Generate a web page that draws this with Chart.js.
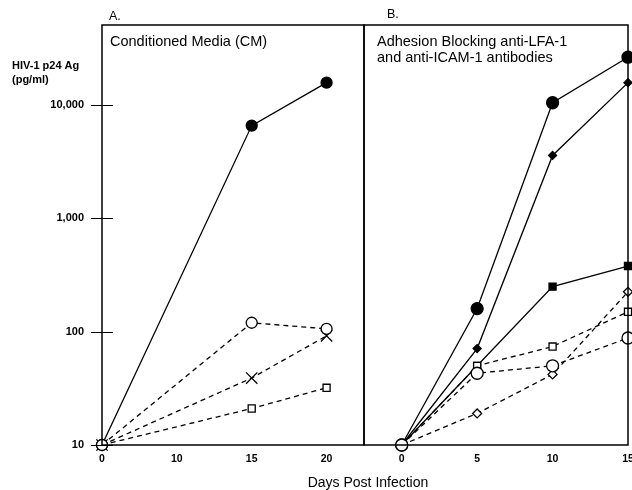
<!DOCTYPE html>
<html><head><meta charset="utf-8">
<script src="https://cdn.jsdelivr.net/npm/chart.js@4.4.1/dist/chart.umd.min.js"></script>
<style>
html,body{margin:0;padding:0;background:#fff;}
#wrap{position:relative;width:632px;height:490px;background:#fff;}
canvas{position:absolute;left:0;top:0;}
</style></head><body>
<div id="wrap"><canvas id="cA" width="632" height="490"></canvas><canvas id="cB" width="632" height="490"></canvas></div>
<script>
// ---- Panel A (Conditioned Media) ----
const daysA = ['0', '10', '15', '20'];          // tick labels (equally spaced in the original)
const daysAData = ['0', '15', '20'];           // days sampled
const cmFilledCircle = [10, 6600, 15800];
const cmOpenCircle = [10, 120, 106];
const cmCross = [10, 39, 92];
const cmOpenSquare = [10, 21, 32];

// ---- Panel B (Adhesion blocking antibodies) ----
const daysB = [0, 5, 10, 15];
const abFilledCircle = [10, 160, 10500, 26500];
const abFilledDiamond = [10, 71, 3600, 15800];
const abFilledSquare = [10, 50, 250, 380];
const abOpenSquare = [10, 50, 74, 150];
const abOpenCircle = [10, 43, 50, 88];
const abOpenDiamond = [10, 19, 42, 225];

const yTicks = [10, 100, 1000, 10000];
const yMin = 10, yMax = 51000;

const FONT = "'Liberation Sans', Arial, Helvetica, sans-serif";
Chart.defaults.font.family = FONT;
Chart.defaults.color = '#000';

function ptsA(vals) { return vals.map((v, i) => ({ x: daysA.indexOf(daysAData[i]), y: v })); }
function ptsB(vals) { return vals.map((v, i) => ({ x: daysB[i], y: v })); }

function ds(data, style, radius, filled, dashed, extra) {
  return Object.assign({
    data: data,
    borderColor: '#000',
    borderWidth: 1.3,
    borderDash: dashed ? [5, 4] : [],
    pointStyle: style,
    pointRadius: radius,
    pointHoverRadius: radius,
    pointBackgroundColor: filled ? '#000' : '#fff',
    pointBorderColor: '#000',
    pointBorderWidth: 1.3,
    fill: false,
    tension: 0,
    clip: false
  }, extra || {});
}

function framePlugin(id, draw) {
  return {
    id: id,
    afterDraw(chart) {
      const ctx = chart.ctx, a = chart.chartArea;
      ctx.save();
      ctx.strokeStyle = '#000';
      ctx.lineWidth = 1.5;
      ctx.strokeRect(a.left, a.top, a.right - a.left, a.bottom - a.top);
      ctx.restore();
      draw(chart, ctx, a);
    }
  };
}

const commonY = {
  type: 'logarithmic', min: yMin, max: yMax
};

function noPad(s) { s.height = 45; s.paddingLeft = 0; s.paddingRight = 0; }

// Chart A
const plugA = framePlugin('frameA', (chart, ctx, a) => {
  const ys = chart.scales.y;
  ctx.save();
  ctx.strokeStyle = '#000'; ctx.lineWidth = 1;
  yTicks.forEach(v => {
    const y = Math.round(ys.getPixelForValue(v)) + 0.5;
    ctx.beginPath(); ctx.moveTo(a.left - 11, y); ctx.lineTo(a.left + 11, y); ctx.stroke();
  });
  ctx.fillStyle = '#000';
  ctx.textBaseline = 'middle';
  ctx.textAlign = 'left';
  ctx.font = '12.5px ' + FONT;
  ctx.fillText('A.', 109, 17);
  ctx.font = '14.5px ' + FONT;
  ctx.fillText('Conditioned Media (CM)', 110, 42);
  ctx.font = 'bold 11px ' + FONT;
  ctx.fillText('HIV-1 p24 Ag', 12, 66);
  ctx.fillText('(pg/ml)', 12, 80);
  ctx.font = '14px ' + FONT;
  ctx.textAlign = 'center';
  ctx.fillText('Days Post Infection', 368, 483);
  ctx.restore();
});

new Chart(document.getElementById('cA'), {
  type: 'line',
  data: {
    datasets: [
      ds(ptsA(cmOpenCircle), 'circle', 5.5, false, true),
      ds(ptsA(cmOpenSquare), 'rect', 5, false, true),
      ds(ptsA(cmCross), 'crossRot', 8, false, true),
      ds(ptsA(cmFilledCircle), 'circle', 5.5, true, false)
    ]
  },
  options: {
    responsive: false, animation: false,
    layout: { autoPadding: false, padding: { top: 25, right: 268, left: 0, bottom: 0 } },
    plugins: { legend: { display: false }, tooltip: { enabled: false } },
    scales: {
      x: {
        type: 'linear', min: 0, max: 3.5,
        afterBuildTicks: s => { s.ticks = daysA.map((d, i) => ({ value: i })); },
        afterFit: noPad,
        grid: { display: false, drawTicks: false },
        border: { display: false },
        ticks: { font: { size: 10.5, weight: 'bold' }, padding: 8, maxRotation: 0,
                 callback: v => daysA[v] }
      },
      y: Object.assign({}, commonY, {
        afterBuildTicks: s => { s.ticks = yTicks.map(v => ({ value: v })); },
        afterFit: s => { s.width = 102; s.paddingTop = 0; s.paddingBottom = 0; },
        grid: { display: false, drawTicks: false },
        border: { display: false },
        ticks: { font: { size: 11, weight: 'bold' }, padding: 18,
                 callback: v => Number(v).toLocaleString('en-US') }
      })
    }
  },
  plugins: [plugA]
});

// Chart B
const plugB = framePlugin('frameB', (chart, ctx, a) => {
  ctx.save();
  ctx.fillStyle = '#000';
  ctx.textBaseline = 'middle';
  ctx.textAlign = 'left';
  ctx.font = '12.5px ' + FONT;
  ctx.fillText('B.', 387, 15);
  ctx.font = '14.5px ' + FONT;
  ctx.fillText('Adhesion Blocking anti-LFA-1', 377, 42);
  ctx.fillText('and anti-ICAM-1 antibodies', 377, 58);
  ctx.restore();
});

new Chart(document.getElementById('cB'), {
  type: 'line',
  data: {
    datasets: [
      ds(ptsB(abOpenCircle), 'circle', 6, false, true),
      ds(ptsB(abOpenSquare), 'rect', 5, false, true),
      ds(ptsB(abOpenDiamond), 'rectRot', 4.5, false, true),
      ds(ptsB(abFilledSquare), 'rect', 5, true, false),
      ds(ptsB(abFilledDiamond), 'rectRot', 4, true, false),
      ds(ptsB(abFilledCircle), 'circle', 6, true, false)
    ]
  },
  options: {
    responsive: false, animation: false,
    layout: { autoPadding: false, padding: { top: 25, right: 4, left: 364, bottom: 0 } },
    plugins: { legend: { display: false }, tooltip: { enabled: false } },
    scales: {
      x: {
        type: 'linear', min: -2.5, max: 15,
        afterBuildTicks: s => { s.ticks = daysB.map(v => ({ value: v })); },
        afterFit: noPad,
        grid: { display: false, drawTicks: false },
        border: { display: false },
        ticks: { font: { size: 10.5, weight: 'bold' }, padding: 8, maxRotation: 0 }
      },
      y: Object.assign({}, commonY, { display: false })
    }
  },
  plugins: [plugB]
});
</script>
</body></html>
